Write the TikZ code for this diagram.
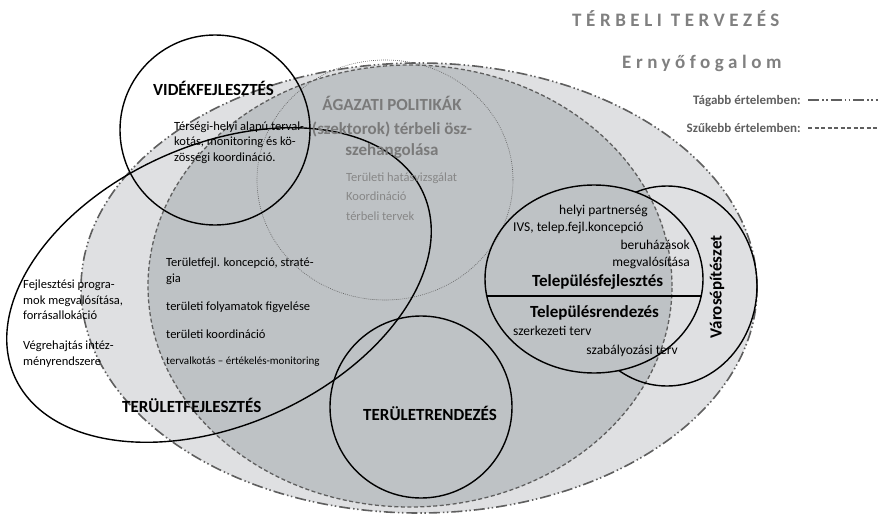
\documentclass[tikz,border=0pt]{standalone}
\usepackage{fontspec}
\setmainfont{Carlito}
\newfontfamily\spacedfont[LetterSpace=24]{Carlito}
\definecolor{outerfill}{RGB}{223,224,226}
\definecolor{innerfill}{RGB}{190,194,197}
\definecolor{linegray}{RGB}{95,95,95}
\definecolor{titlegray}{RGB}{128,128,128}
\definecolor{agtext}{RGB}{122,122,122}
\definecolor{subtext}{RGB}{135,135,135}
\begin{document}
\begin{tikzpicture}[x=1pt,y=-1pt,
  solidline/.style={draw=black, line width=1.4pt},
  dashdotline/.style={draw=linegray, line width=1.6pt, dash pattern=on 11pt off 3pt on 1.5pt off 2.5pt on 1.5pt off 3pt},
  dashline/.style={draw=linegray, line width=1.3pt, dash pattern=on 4pt off 2.5pt},
  dotline/.style={draw=linegray, line width=0.6pt, dash pattern=on 0.8pt off 1.2pt},
  body/.style={font=\fontsize{12.5}{15}\selectfont, inner sep=0pt, anchor=base west},
  small/.style={font=\fontsize{11}{13}\selectfont, inner sep=0pt, anchor=base west},
  town/.style={font=\fontsize{13.5}{16}\selectfont, inner sep=0pt},
  head/.style={font=\fontsize{17}{20}\selectfont\bfseries, inner sep=0pt},
  agz/.style={font=\fontsize{17}{20}\selectfont\bfseries, text=agtext, inner sep=0pt, anchor=base},
  agsub/.style={body, text=subtext},
  titlestyle/.style={font=\fontsize{19}{22}\selectfont\spacedfont\bfseries, text=titlegray, inner sep=0pt, anchor=base west},
  legend/.style={font=\fontsize{13}{15}\selectfont\bfseries, text=linegray, inner sep=0pt, anchor=base east}
]
\useasboundingbox (0,0) rectangle (878,514);

% wide sense (outer) and narrow sense (inner) regions
\path[fill=outerfill, dashdotline] (419,288) ellipse [x radius=338pt, y radius=225pt];
\path[fill=innerfill, dashline] (410,286) ellipse [x radius=262pt, y radius=221pt];

% sectoral policies (dotted)
\draw[dotline] (385,180) ellipse [x radius=128pt, y radius=120pt];

% rural development
\draw[solidline] (215,130) circle [radius=95pt];

% regional development
\draw[solidline, rotate around={24.2:(219,285)}] (219,285) ellipse [x radius=224pt, y radius=140pt];

% spatial planning
\draw[solidline] (421,407) circle [radius=91pt];

% settlement development / planning
\draw[solidline] (594,279) ellipse [x radius=109pt, y radius=94pt];
\coordinate (lineL) at (487,296);
\coordinate (lineR) at (701,296);
\draw[solidline] (lineL) -- (lineR);

% urbanism, outside the settlement ellipse
\begin{scope}[even odd rule]
  \clip (0,0) rectangle (878,514) (594,279) ellipse [x radius=109pt, y radius=94pt];
  \draw[solidline] (667,286) ellipse [x radius=90pt, y radius=100pt];
\end{scope}

% titles
\node[titlestyle] (title) at (572,26) {TÉRBELI TERVEZÉS};
\node[titlestyle] (umbrella) at (622,68) {Ernyőfogalom};

% legend
\node[legend] (leg1) at (801,104) {Tágabb értelemben:};
\node[legend] (leg2) at (801,132) {Szűkebb értelemben:};
\coordinate (l1a) at (808,100);
\coordinate (l1b) at (878,100);
\coordinate (l2a) at (808,128);
\coordinate (l2b) at (878,128);
\draw[dashdotline] (l1a) -- (l1b);
\draw[dashline] (l2a) -- (l2b);

% rural development texts
\node[head, anchor=base west] (vid) at (153,95) {VIDÉKFEJLESZTÉS};
\node[body] (v1) at (174,130) {Térségi-helyi alapú terval-};
\node[body] (v2) at (174,145.5) {kotás, monitoring és kö-};
\node[body] (v3) at (174,161) {zösségi koordináció.};

% sectoral policies texts
\node[agz] (ag1) at (392,110) {ÁGAZATI POLITIKÁK};
\node[agz] (ag2) at (392,134) {(szektorok) térbeli ösz-};
\node[agz] (ag3) at (392,155) {szehangolása};
\node[agsub] (ag4) at (346,181) {Területi hatásvizsgálat};
\node[agsub] (ag5) at (346,200.5) {Koordináció};
\node[agsub] (ag6) at (346,220) {térbeli tervek};

% regional development texts
\node[body] (r1) at (166,266.5) {Területfejl. koncepció, straté-};
\node[body] (r2) at (166,282) {gia};
\node[body] (r3) at (166,310) {területi folyamatok figyelése};
\node[body] (r4) at (166,338) {területi koordináció};
\node[small] (r5) at (166,364) {tervalkotás – értékelés-monitoring};
\node[body] (f1) at (23,288.5) {Fejlesztési progra-};
\node[body] (f2) at (23,304) {mok megvalósítása,};
\node[body] (f3) at (23,319.5) {forrásallokáció};
\node[body] (f4) at (23,349.5) {Végrehajtás intéz-};
\node[body] (f5) at (23,365) {ményrendszere};
\node[head, anchor=base west] (terfejl) at (122,412) {TERÜLETFEJLESZTÉS};
\node[head, anchor=base] (terrend) at (430,420) {TERÜLETRENDEZÉS};

% settlement texts
\node[town, anchor=base east] (s1) at (648,214) {helyi partnerség};
\node[town, anchor=base west] (s2) at (513,231) {IVS, telep.fejl.koncepció};
\node[town, anchor=base east] (s3) at (690,249) {beruházások};
\node[town, anchor=base east] (s4) at (690,266) {megvalósítása};
\node[head, anchor=base west] (s5) at (532,286) {Településfejlesztés};
\node[head, anchor=base west] (s6) at (530,317) {Településrendezés};
\node[town, anchor=base west] (s7) at (513,335) {szerkezeti terv};
\node[town, anchor=base east] (s8) at (678,354) {szabályozási terv};
\node[head, rotate=90] (varos) at (717,287) {Városépítészet};
\end{tikzpicture}
\end{document}
